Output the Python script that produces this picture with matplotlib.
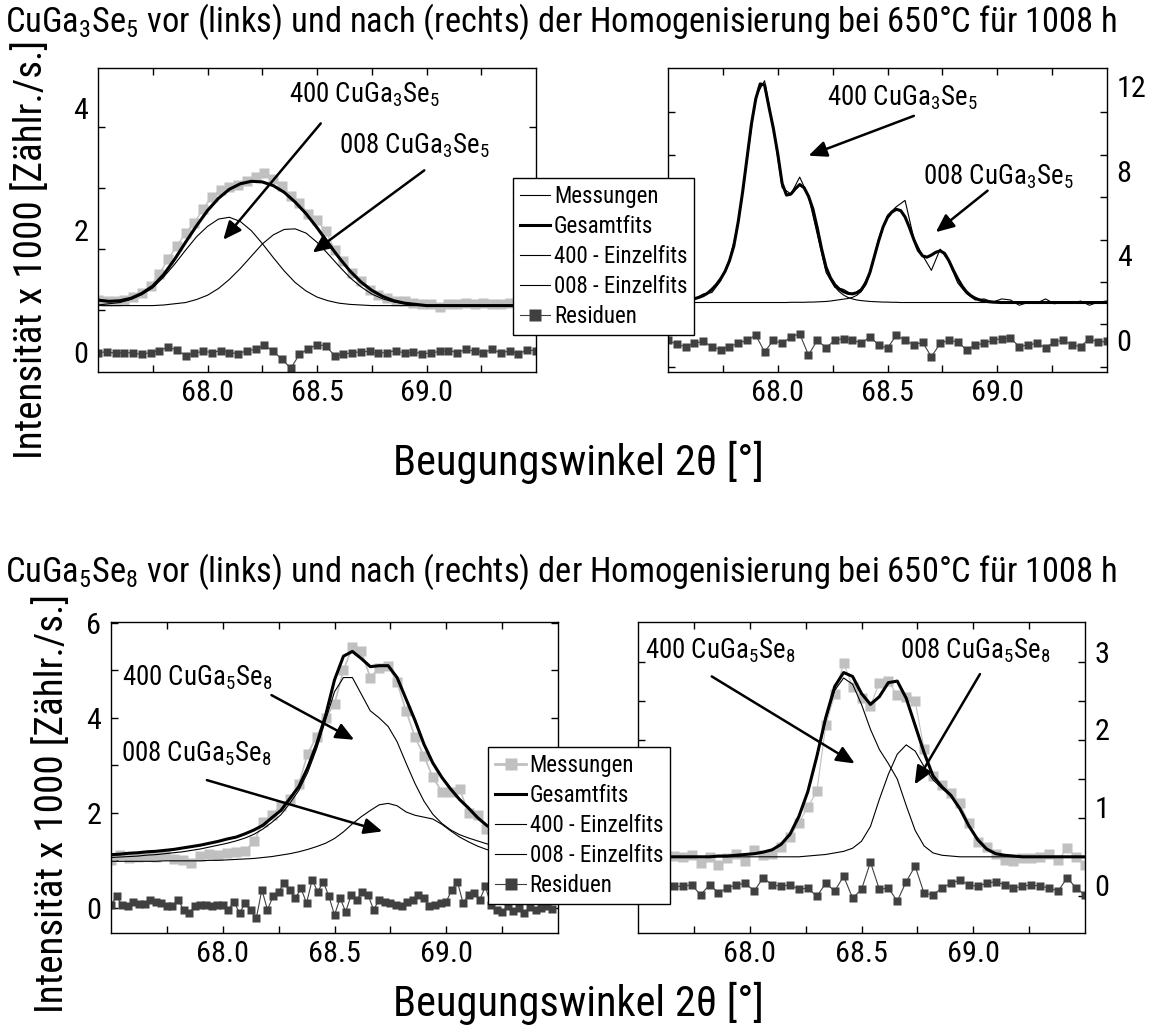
import numpy as np
import matplotlib
matplotlib.use('Agg')
import matplotlib.pyplot as plt
from matplotlib import font_manager
from matplotlib.lines import Line2D

avail = {f.name for f in font_manager.fontManager.ttflist}
if 'Liberation Sans Narrow' in avail:
    FAM, s, w = 'Liberation Sans Narrow', 1.0, 1.0
elif 'Roboto Condensed' in avail:
    FAM, s, w = 'Roboto Condensed', 0.97, 1.115
else:
    FAM, s, w = 'Liberation Sans', 0.84, 1.13
plt.rcParams['font.family'] = [FAM, 'DejaVu Sans']
plt.rcParams['mathtext.default'] = 'regular'

# 2theta sampling of the scans
x02 = np.round(67.50 + 0.02 * np.arange(101), 2)
x04 = np.round(67.50 + 0.04 * np.arange(51), 2)
x05 = np.round(67.50 + 0.05 * np.arange(41), 2)
x025 = np.round(67.50 + 0.025 * np.arange(80), 3)

# ---- CuGa3Se5, before (top left)
tl_meas = [0.86, 0.84, 0.83, 0.86, 0.90, 0.97, 1.08, 1.28, 1.52, 1.74,
           1.95, 2.12, 2.35, 2.55, 2.66, 2.71, 2.74, 2.80, 2.87, 2.93,
           2.84, 2.72, 2.56, 2.45, 2.27, 2.16, 1.98, 1.68, 1.50, 1.29,
           1.16, 1.02, 0.94, 0.88, 0.84, 0.83, 0.80, 0.79, 0.78, 0.74,
           0.79, 0.78, 0.80, 0.78, 0.81, 0.78, 0.79, 0.81, 0.77, 0.79, 0.80]
tl_res = [-0.01, 0.00, -0.02, -0.01, -0.02, -0.04, -0.01, 0.02, 0.08, 0.03,
          -0.06, -0.02, 0.01, -0.01, 0.02, -0.01, -0.03, 0.02, 0.04, 0.11,
          0.01, -0.12, -0.27, -0.04, 0.05, 0.12, 0.10, -0.06, -0.04, -0.01,
          0.00, 0.01, -0.02, -0.01, 0.02, -0.02, 0.00, -0.03, -0.02, 0.01,
          0.02, -0.01, 0.04, 0.01, -0.01, 0.04, -0.02, 0.02, -0.03, 0.03, 0.02]
tl_fit = [0.85, 0.83, 0.84, 0.88, 0.96, 1.08, 1.27, 1.52, 1.80, 2.07,
          2.32, 2.52, 2.67, 2.76, 2.80, 2.79, 2.73, 2.62, 2.46, 2.27,
          2.04, 1.79, 1.55, 1.33, 1.15, 1.01, 0.91, 0.84, 0.80, 0.78,
          0.76, 0.76, 0.76, 0.76, 0.76, 0.76, 0.76, 0.76, 0.76, 0.76, 0.76]
tl_400 = [0.77, 0.79, 0.81, 0.86, 0.94, 1.05, 1.23, 1.44, 1.67, 1.89,
          2.06, 2.18, 2.21, 2.14, 1.99, 1.78, 1.55, 1.33, 1.14, 1.00,
          0.90, 0.84, 0.80, 0.78, 0.77, 0.76, 0.76, 0.76, 0.76, 0.76,
          0.76, 0.76, 0.76, 0.76, 0.76, 0.76, 0.76, 0.76, 0.76, 0.76, 0.76]
tl_008 = [0.76, 0.76, 0.76, 0.76, 0.76, 0.76, 0.77, 0.79, 0.81, 0.86,
          0.93, 1.04, 1.19, 1.37, 1.57, 1.77, 1.92, 2.01, 2.02, 1.95,
          1.80, 1.61, 1.41, 1.22, 1.07, 0.95, 0.87, 0.82, 0.79, 0.77,
          0.76, 0.76, 0.76, 0.76, 0.76, 0.76, 0.76, 0.76, 0.76, 0.76, 0.76]

# ---- CuGa3Se5, after (top right)
tr_meas = [1.80, 1.85, 1.90, 1.93, 2.18, 2.25, 2.80, 3.80, 5.50, 8.50,
           11.50, 12.25, 10.00, 7.20, 6.90, 7.70, 6.80, 5.00, 3.20, 2.50,
           2.40, 2.15, 2.40, 3.20, 4.80, 5.90, 6.30, 6.60, 4.80, 4.00,
           3.30, 4.30, 3.70, 2.70, 2.20, 1.90, 1.95, 1.80, 1.95, 1.90,
           1.65, 1.78, 1.75, 1.95, 1.72, 1.80, 1.75, 1.85, 1.65, 1.80, 1.85]
tr_res = [0.00, -0.20, -0.30, -0.15, -0.05, -0.30, -0.45, -0.30, -0.15, 0.00,
          0.24, -0.55, 0.00, -0.15, 0.16, 0.30, -0.70, 0.00, -0.35, 0.00,
          0.08, 0.02, -0.15, 0.16, -0.22, -0.38, 0.24, 0.00, -0.22, -0.10,
          -0.78, -0.15, 0.00, -0.08, -0.45, -0.22, -0.15, 0.00, 0.08, 0.10,
          -0.30, -0.22, -0.15, -0.35, -0.08, 0.00, -0.22, -0.30, 0.08, -0.10, -0.05]
tr_fit = [1.80, 1.81, 1.82, 1.84, 1.87, 1.91, 1.96, 2.02, 2.10, 2.22,
          2.40, 2.62, 2.90, 3.25, 3.75, 4.45, 5.60, 7.00, 8.60, 10.20,
          11.40, 12.10, 12.05, 11.00, 10.00, 8.80, 7.40, 6.85, 6.90, 7.15,
          7.35, 7.20, 6.80, 6.20, 5.30, 4.30, 3.45, 2.95, 2.62, 2.42,
          2.29, 2.21, 2.19, 2.24, 2.38, 2.68, 3.20, 3.95, 4.70, 5.35,
          5.80, 6.05, 6.18, 6.12, 5.82, 5.32, 4.75, 4.25, 3.98, 3.92,
          4.02, 4.15, 4.22, 4.10, 3.75, 3.30, 2.90, 2.55, 2.28, 2.10,
          1.98, 1.90, 1.85, 1.82, 1.80, 1.79] + [1.78] * 25
tr_400 = [1.78, 1.79, 1.80, 1.82, 1.85, 1.89, 1.94, 2.00, 2.08, 2.20,
          2.38, 2.60, 2.88, 3.23, 3.73, 4.43, 5.58, 6.98, 8.58, 10.18,
          11.38, 12.08, 12.03, 10.98, 9.98, 8.78, 7.38, 6.83, 6.88, 7.13,
          7.33, 7.18, 6.78, 6.18, 5.29, 4.28, 3.40, 2.88, 2.52, 2.29,
          2.13, 2.02, 1.95, 1.90, 1.87, 1.85, 1.83, 1.82, 1.81, 1.80,
          1.80, 1.79, 1.79] + [1.78] * 48
tr_008 = [1.78] * 28 + [
          1.79, 1.79, 1.79, 1.79, 1.80, 1.80, 1.81, 1.82, 1.83, 1.85,
          1.88, 1.91, 1.94, 1.97, 2.02, 2.12, 2.29, 2.61, 3.15, 3.91,
          4.67, 5.33, 5.78, 6.04,
          6.18, 6.12, 5.82, 5.32, 4.75, 4.25, 3.98, 3.92, 4.02, 4.15,
          4.22, 4.10, 3.75, 3.30, 2.90, 2.55, 2.28, 2.10, 1.98, 1.90,
          1.85, 1.82, 1.80, 1.79] + [1.78] * 25

# ---- CuGa5Se8, before (bottom left)
bl_meas = [1.00, 1.12, 1.05, 1.08, 1.10, 1.07, 1.12, 1.03, 1.00, 0.95,
           1.10, 1.13, 1.12, 1.15, 1.18, 1.20, 1.40, 1.80, 1.95, 2.15,
           2.30, 2.60, 3.25, 3.60, 4.00, 4.30, 5.00, 5.50, 5.40, 4.85,
           5.05, 5.10, 4.75, 4.15, 3.60, 3.20, 2.75, 2.45, 2.45, 2.50,
           2.00, 1.95, 1.65, 1.55, 1.45, 1.35, 1.30, 1.25, 1.20, 1.18, 1.15]
bl_res = [0.06, 0.24, 0.05, 0.03, 0.13, 0.08, 0.08, 0.17, 0.13, 0.10,
          0.03, 0.04, 0.17, -0.04, -0.11, 0.03, 0.06, 0.06, 0.03, 0.06,
          0.06, -0.04, 0.13, -0.11, 0.10, -0.04, -0.22, 0.38, -0.04, 0.24,
          0.34, 0.52, 0.38, 0.20, 0.41, 0.10, 0.59, 0.34, 0.55, 0.24,
          -0.15, 0.20, -0.08, 0.27, 0.17, 0.34, 0.27, -0.04, 0.17, 0.13,
          0.10, 0.06, 0.03, 0.13, 0.17, 0.27, 0.20, 0.03, 0.06, 0.10,
          0.13, 0.38, 0.55, 0.10, 0.27, 0.31, 0.17, 0.45, 0.06, -0.04,
          -0.08, 0.03, -0.06, 0.00, -0.10, 0.02, -0.05, 0.00, 0.03, -0.02]
bl_fit = [1.12, 1.13, 1.15, 1.16, 1.18, 1.19, 1.21, 1.23, 1.26, 1.29,
          1.32, 1.36, 1.40, 1.45, 1.49, 1.56, 1.64, 1.74, 1.90, 2.05,
          2.30, 2.55, 2.95, 3.45, 4.05, 4.80, 5.30, 5.40, 5.25, 5.08,
          5.10, 5.10, 4.85, 4.40, 3.95, 3.45, 3.05, 2.75, 2.50, 2.28,
          2.10, 1.90, 1.74, 1.62, 1.52, 1.45, 1.39, 1.34, 1.30, 1.27, 1.24]
bl_400 = [1.06, 1.07, 1.08, 1.09, 1.11, 1.12, 1.14, 1.16, 1.18, 1.21,
          1.24, 1.28, 1.32, 1.36, 1.41, 1.47, 1.55, 1.66, 1.80, 1.96,
          2.20, 2.47, 2.85, 3.35, 3.95, 4.55, 4.85, 4.85, 4.50, 4.15,
          4.00, 3.82, 3.50, 3.05, 2.62, 2.25, 1.97, 1.78, 1.64, 1.54,
          1.47, 1.41, 1.35, 1.31, 1.27, 1.24, 1.21, 1.19, 1.17, 1.15, 1.14]
bl_008 = [0.98, 0.98, 0.98, 0.98, 0.98, 0.98, 0.99, 0.99, 0.99, 0.99,
          0.99, 1.00, 1.00, 1.01, 1.02, 1.03, 1.04, 1.06, 1.08, 1.11,
          1.14, 1.18, 1.23, 1.29, 1.36, 1.46, 1.60, 1.77, 1.92, 2.05,
          2.17, 2.20, 2.15, 2.02, 1.95, 1.91, 1.87, 1.76, 1.62, 1.49,
          1.39, 1.30, 1.23, 1.18, 1.14, 1.11, 1.09, 1.07, 1.06, 1.05, 1.04]

# ---- CuGa5Se8, after (bottom right)
br_meas = [0.33, 0.38, 0.35, 0.32, 0.37, 0.36, 0.38, 0.28, 0.36, 0.26,
           0.34, 0.40, 0.30, 0.45, 0.38, 0.40, 0.48, 0.62, 0.80, 1.00,
           1.20, 2.05, 2.45, 2.85, 2.55, 2.40, 2.30, 2.60, 2.62, 2.44,
           2.42, 2.36, 1.75, 1.40, 1.28, 1.18, 1.05, 0.80, 0.55, 0.48,
           0.40, 0.32, 0.30, 0.35, 0.34, 0.36, 0.40, 0.32, 0.47, 0.36, 0.26]
br_res = [0.02, -0.03, 0.00, 0.03, -0.02, -0.02, 0.00, -0.13, 0.00, -0.10,
          -0.04, 0.00, 0.02, -0.08, 0.09, 0.00, -0.02, 0.00, -0.06, -0.04,
          -0.15, 0.02, -0.08, 0.11, -0.17, -0.06, 0.29, -0.06, -0.04, -0.21,
          0.04, 0.24, -0.11, -0.13, -0.04, 0.02, 0.06, 0.00, -0.02, 0.02,
          0.04, 0.00, -0.04, -0.02, 0.00, -0.02, -0.04, -0.08, 0.09, -0.04, -0.13]
br_fit = [0.36] * 9 + [
          0.37, 0.37, 0.38, 0.39, 0.40, 0.42, 0.45, 0.52, 0.65, 0.88,
          1.20, 1.65, 2.15, 2.55, 2.73, 2.68, 2.46, 2.32, 2.42, 2.60,
          2.62, 2.40, 2.05, 1.70, 1.40, 1.26, 1.15, 0.98, 0.76, 0.58,
          0.46, 0.40, 0.38, 0.37] + [0.36] * 8
br_400 = [0.36] * 9 + [
          0.37, 0.37, 0.38, 0.39, 0.40, 0.42, 0.45, 0.52, 0.65, 0.87,
          1.19, 1.63, 2.12, 2.50, 2.66, 2.58, 2.32, 2.00, 1.74, 1.56,
          1.36, 1.02, 0.70, 0.50, 0.41, 0.38, 0.37] + [0.36] * 15
br_008 = [0.36] * 19 + [
          0.37, 0.38, 0.39, 0.41, 0.43, 0.47, 0.56, 0.75, 1.10, 1.42,
          1.68, 1.80, 1.72, 1.52, 1.35, 1.24, 1.14, 0.98, 0.76, 0.58,
          0.46, 0.40, 0.38, 0.37] + [0.36] * 8

W, H = 1152, 1033
MEAS = '#c0c0c0'
RES = '#404040'
TICK = 22.5 * s
ANN = 20 * s


def box(l, t, r, b):
    return [l / W, 1 - b / H, (r - l) / W, (b - t) / H]


def style(ax, ylim, labels, ticks, right=False, label_ticks=False):
    ax.set_xlim(67.5, 69.5)
    ax.set_ylim(*ylim)
    ax.set_xticks([68.0, 68.5, 69.0])
    ax.set_xticklabels(['68.0', '68.5', '69.0'])
    ax.set_xticks([67.75, 68.25, 68.75, 69.25], minor=True)
    ax.tick_params(axis='x', which='both', direction='in', top=True,
                   bottom=True, length=5, width=1, labelsize=TICK, pad=5)
    ax.set_yticks(labels)
    ax.set_yticklabels([str(v) for v in labels])
    ax.set_yticks(ticks, minor=True)
    ax.tick_params(axis='y', which='major', direction='in', left=True,
                   right=True, length=5 if label_ticks else 0, width=1,
                   labelsize=TICK, pad=7,
                   labelleft=not right, labelright=right)
    ax.tick_params(axis='y', which='minor', direction='in', left=True,
                   right=True, length=5, width=1)
    for sp in ax.spines.values():
        sp.set_linewidth(1)


def arrow(ax, start, end):
    ax.annotate('', xy=end, xytext=start,
                arrowprops=dict(arrowstyle='-|>,head_length=0.5,head_width=0.22',
                                mutation_scale=22, lw=1.8, color='k',
                                shrinkA=0, shrinkB=0))


fig = plt.figure(figsize=(W / 100, H / 100), dpi=100)

# top left
ax = fig.add_axes(box(98, 68, 536, 372))
ax.plot(x04, tl_meas, color=MEAS, lw=1, marker='s', ms=7.5, mec='none')
ax.plot(x05, tl_400, color='k', lw=0.8)
ax.plot(x05, tl_008, color='k', lw=0.8)
ax.plot(x05, tl_fit, color='k', lw=2.2)
ax.plot(x04, tl_res, color=RES, lw=0.8, marker='s', ms=6, mec='none')
style(ax, (-0.33, 4.66), [0, 2, 4], [0.69, 1.69, 2.69, 3.69])
ax.text(68.37, 4.10, '400 CuGa$_3$Se$_5$', fontsize=ANN, va='baseline')
ax.text(68.60, 3.26, '008 CuGa$_3$Se$_5$', fontsize=ANN, va='baseline')
arrow(ax, (68.517, 3.75), (68.072, 1.84))
arrow(ax, (68.99, 2.98), (68.48, 1.63))

# top right
ax = fig.add_axes(box(668, 68, 1107, 372))
ax.plot(x04, tr_meas, color='k', lw=0.8)
ax.plot(x02, tr_400, color='k', lw=0.8)
ax.plot(x02, tr_008, color='k', lw=0.8)
ax.plot(x02, tr_fit, color='k', lw=2.2)
ax.plot(x04, tr_res, color=RES, lw=0.8, marker='s', ms=5.5, mec='none')
style(ax, (-1.5, 12.85), [0, 4, 8, 12],
      [-1.25, 0.75, 2.75, 4.75, 6.75, 8.75, 10.75], right=True)
ax.text(68.224, 11.06, '400 CuGa$_3$Se$_5$', fontsize=ANN, va='baseline')
ax.text(68.66, 7.37, '008 CuGa$_3$Se$_5$', fontsize=ANN, va='baseline')
arrow(ax, (68.62, 10.59), (68.14, 8.71))
arrow(ax, (68.956, 7.06), (68.72, 5.10))

# bottom left
ax = fig.add_axes(box(111, 622, 558, 933))
ax.plot(x04, bl_meas, color=MEAS, lw=1.2, marker='s', ms=7.5, mec='none')
ax.plot(x04, bl_400, color='k', lw=0.8)
ax.plot(x04, bl_008, color='k', lw=0.8)
ax.plot(x04, bl_fit, color='k', lw=2.2)
ax.plot(x025, bl_res, color=RES, lw=0.8, marker='s', ms=5.5, mec='none')
style(ax, (-0.53, 6.02), [0, 2, 4, 6], [1, 3, 5], label_ticks=True)
ax.text(67.551, 4.69, '400 CuGa$_5$Se$_8$', fontsize=ANN, va='baseline')
ax.text(67.544, 3.08, '008 CuGa$_5$Se$_8$', fontsize=ANN, va='baseline')
arrow(ax, (68.218, 4.48), (68.588, 3.54))
arrow(ax, (67.929, 2.69), (68.714, 1.61))

# bottom right
ax = fig.add_axes(box(638, 622, 1085, 933))
ax.plot(x04, br_meas, color=MEAS, lw=0.8, marker='s', ms=7, mec='none')
ax.plot(x04, br_400, color='k', lw=0.8)
ax.plot(x04, br_008, color='k', lw=0.8)
ax.plot(x04, br_fit, color='k', lw=2.2)
ax.plot(x04, br_res, color=RES, lw=0.8, marker='s', ms=5.5, mec='none')
style(ax, (-0.62, 3.38), [0, 1, 2, 3],
      [-0.14, 0.36, 0.86, 1.36, 1.86, 2.36, 2.86], right=True)
ax.text(67.533, 2.91, '400 CuGa$_5$Se$_8$', fontsize=ANN, va='baseline')
ax.text(68.672, 2.91, '008 CuGa$_5$Se$_8$', fontsize=ANN, va='baseline')
arrow(ax, (67.83, 2.68), (68.47, 1.56))
arrow(ax, (69.03, 2.71), (68.738, 1.29))

# legends
names = ['Messungen', 'Gesamtfits', '400 - Einzelfits', '008 - Einzelfits', 'Residuen']
top_h = [Line2D([], [], color='k', lw=0.8),
         Line2D([], [], color='k', lw=2.2),
         Line2D([], [], color='k', lw=0.8),
         Line2D([], [], color='k', lw=0.8),
         Line2D([], [], color=RES, lw=0.8, marker='s', ms=8, mec='none')]
bot_h = [Line2D([], [], color=MEAS, lw=2, marker='s', ms=8, mec='none'),
         Line2D([], [], color='k', lw=2.2),
         Line2D([], [], color='k', lw=0.8),
         Line2D([], [], color='k', lw=0.8),
         Line2D([], [], color=RES, lw=0.8, marker='s', ms=8, mec='none')]
for hnd, (lx, ty) in ((top_h, (512.7, 178.3)), (bot_h, (488.3, 747.3))):
    lg = fig.legend(hnd, names, loc='upper left',
                    bbox_to_anchor=(lx / W, 1 - ty / H), fontsize=17 * s,
                    frameon=True, fancybox=False, framealpha=1,
                    edgecolor='k', handlelength=1.35, handletextpad=0.15,
                    labelspacing=0.3, borderpad=0.3, borderaxespad=0)
    lg.get_frame().set_linewidth(1)

# titles and axis labels
fig.text(5 / W, 1 - 32 / H,
         'CuGa$_3$Se$_5$ vor (links) und nach (rechts) der Homogenisierung bei 650°C für 1008 h',
         fontsize=23 * s * w, va='baseline', ha='left')
fig.text(5 / W, 1 - 582 / H,
         'CuGa$_5$Se$_8$ vor (links) und nach (rechts) der Homogenisierung bei 650°C für 1008 h',
         fontsize=23 * s * w, va='baseline', ha='left')
for cx, cy in ((31, 249), (52, 803)):
    fig.text(cx / W, 1 - cy / H, 'Intensität x 1000 [Zählr./s.]',
             rotation=90, fontsize=29 * s, ha='center', va='center')
for cy in (462, 1003):
    fig.text(578 / W, 1 - cy / H, 'Beugungswinkel 2θ [°]',
             fontsize=31.5 * s, ha='center', va='center')

fig.savefig('out.png', dpi=100)
